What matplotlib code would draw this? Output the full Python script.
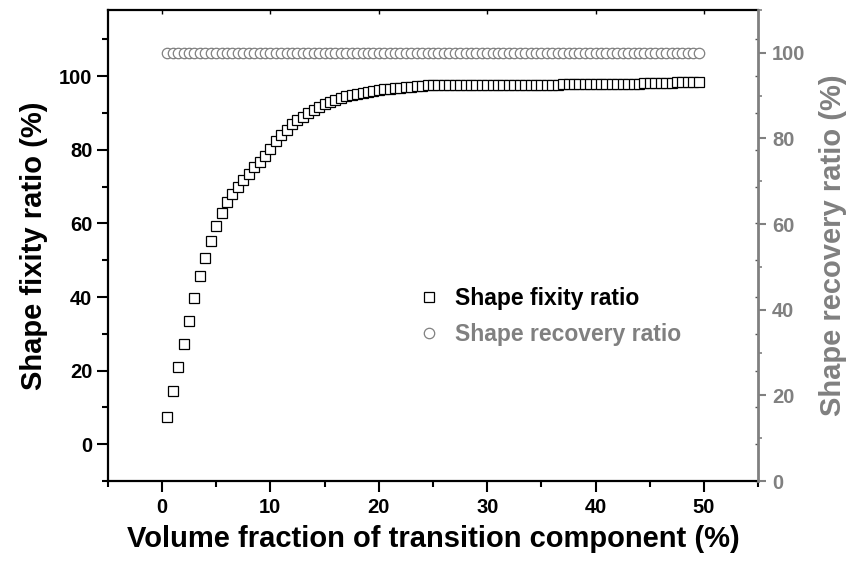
import numpy as np
import matplotlib
matplotlib.use("Agg")
import matplotlib.pyplot as plt
from matplotlib.ticker import MultipleLocator

plt.rcParams["font.family"] = ["Liberation Sans", "DejaVu Sans"]
plt.rcParams["font.weight"] = "bold"

# volume fraction of transition component (%)
volume_frac = [
    0.5, 1.0, 1.5, 2.0, 2.5, 3.0, 3.5, 4.0, 4.5, 5.0,
    5.5, 6.0, 6.5, 7.0, 7.5, 8.0, 8.5, 9.0, 9.5, 10.0,
    10.5, 11.0, 11.5, 12.0, 12.5, 13.0, 13.5, 14.0, 14.5, 15.0,
    15.5, 16.0, 16.5, 17.0, 17.5, 18.0, 18.5, 19.0, 19.5, 20.0,
    20.5, 21.0, 21.5, 22.0, 22.5, 23.0, 23.5, 24.0, 24.5, 25.0,
    25.5, 26.0, 26.5, 27.0, 27.5, 28.0, 28.5, 29.0, 29.5, 30.0,
    30.5, 31.0, 31.5, 32.0, 32.5, 33.0, 33.5, 34.0, 34.5, 35.0,
    35.5, 36.0, 36.5, 37.0, 37.5, 38.0, 38.5, 39.0, 39.5, 40.0,
    40.5, 41.0, 41.5, 42.0, 42.5, 43.0, 43.5, 44.0, 44.5, 45.0,
    45.5, 46.0, 46.5, 47.0, 47.5, 48.0, 48.5, 49.0, 49.5,
]

fixity = [
    7.5, 14.4, 21.1, 27.1, 33.6, 39.6, 45.7, 50.6, 55.1, 59.4,
    62.7, 65.7, 67.9, 69.8, 71.9, 73.4, 75.3, 76.7, 78.4, 80.2,
    82.3, 84.0, 85.5, 86.9, 88.0, 89.0, 90.0, 90.9, 91.7, 92.4,
    93.0, 93.6, 94.1, 94.5, 94.9, 95.2, 95.5, 95.8, 96.0, 96.2,
    96.4, 96.6, 96.8, 96.9, 97.1, 97.2, 97.3, 97.4, 97.5, 97.6,
    97.6, 97.7, 97.7, 97.7, 97.7, 97.7, 97.7, 97.7, 97.7, 97.7,
    97.7, 97.7, 97.7, 97.7, 97.7, 97.7, 97.7, 97.7, 97.7, 97.7,
    97.7, 97.7, 97.7, 97.8, 97.8, 97.8, 97.8, 97.8, 97.8, 97.8,
    97.8, 97.9, 97.9, 97.9, 98.0, 98.0, 98.0, 98.0, 98.1, 98.1,
    98.1, 98.2, 98.2, 98.2, 98.3, 98.3, 98.3, 98.4, 98.4,
]

# shape recovery stays at 100 % for every sample
recovery = [100.0] * len(volume_frac)

gray = "#808080"

fig = plt.figure(figsize=(8.51, 5.61), dpi=100)
ax = fig.add_axes([0.1266, 0.1426, 0.7644, 0.8396])
ax2 = ax.twinx()

h1, = ax.plot(volume_frac, fixity, "s", mfc="white", mec="black", ms=6.7, mew=0.9,
              label="Shape fixity ratio")
h2, = ax2.plot(volume_frac, recovery, "o", mfc="white", mec=gray, ms=7.5, mew=0.9,
               label="Shape recovery ratio")

ax.set_xlim(-5, 55)
ax.set_ylim(-10, 118)
ax2.set_ylim(0, 110)

ax.xaxis.set_major_locator(MultipleLocator(10))
ax.xaxis.set_minor_locator(MultipleLocator(5))
ax.yaxis.set_major_locator(MultipleLocator(20))
ax.yaxis.set_minor_locator(MultipleLocator(10))
ax2.yaxis.set_major_locator(MultipleLocator(20))
ax2.yaxis.set_minor_locator(MultipleLocator(10))

ax.tick_params(axis="both", which="major", direction="out", length=8, width=1.5,
               labelsize=14.5, colors="black")
ax.tick_params(axis="both", which="minor", direction="out", length=4, width=1.5)
ax.tick_params(axis="x", pad=4)
ax.tick_params(axis="y", pad=3)
ax2.tick_params(axis="y", which="major", direction="out", length=6, width=1.5,
                labelsize=14.5, colors=gray, pad=4)
ax2.tick_params(axis="y", which="minor", direction="out", length=3, width=1.2, colors=gray)

for side in ["left", "bottom", "top"]:
    ax.spines[side].set_linewidth(1.6)
ax.spines["right"].set_visible(False)
for side in ["left", "bottom", "top"]:
    ax2.spines[side].set_visible(False)
ax2.spines["right"].set_color(gray)
ax2.spines["right"].set_linewidth(2.0)

# small inward ticks mirrored on the top and right frame
top = ax.secondary_xaxis("top")
top.xaxis.set_major_locator(MultipleLocator(10))
top.tick_params(direction="in", length=3, width=1, labeltop=False)
top.spines["top"].set_visible(False)
rgt = ax.secondary_yaxis("right")
rgt.yaxis.set_major_locator(MultipleLocator(10))
rgt.tick_params(direction="in", length=2, width=1, colors="#555555", labelright=False)
rgt.spines["right"].set_visible(False)

ax.set_xlabel("Volume fraction of transition component (%)", fontsize=21,
              fontweight="bold", labelpad=6)
ax.set_ylabel("Shape fixity ratio (%)", fontsize=21, fontweight="bold", labelpad=8)
ax2.set_ylabel("Shape recovery ratio (%)", fontsize=21, fontweight="bold",
               color=gray, labelpad=10)

leg = ax.legend(handles=[h1, h2], loc="center left", bbox_to_anchor=(0.441, 0.349),
                frameon=False, handletextpad=0.53, labelspacing=0.58,
                handlelength=1.2, prop={"weight": "bold", "size": 16.5})
leg.get_texts()[0].set_color("black")
leg.get_texts()[1].set_color(gray)

plt.savefig("out.png", dpi=100)
